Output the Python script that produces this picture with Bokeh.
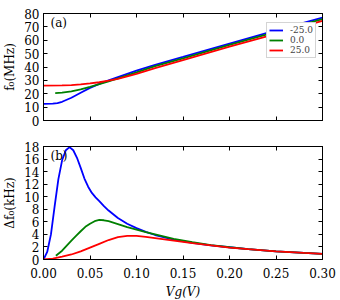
from bokeh.plotting import figure
from bokeh.layouts import column
from bokeh.models import (LinearAxis, FixedTicker, Label, Legend, LegendItem,
                          PrintfTickFormatter, CustomLabelingPolicy)
from bokeh.embed import file_html
from bokeh.resources import INLINE

# ---- data ----
series_names = ["-25.0", "0.0", "25.0"]
series_colors = ["#0000ff", "#008000", "#ff0000"]

# panel (a): f0 in MHz
vg_a_m25 = [0.0, 0.01, 0.015, 0.02, 0.03, 0.04, 0.05, 0.06, 0.07, 0.08, 0.1, 0.12, 0.15, 0.2, 0.25, 0.3]
f0_m25 = [12.4, 12.6, 13.0, 14.0, 17.0, 20.7, 24.4, 27.4, 30.0, 32.5, 37.3, 41.6, 47.5, 57.5, 67.3, 77.0]
vg_a_0 = [0.0126, 0.02, 0.03, 0.04, 0.05, 0.06, 0.07, 0.08, 0.1, 0.12, 0.15, 0.2, 0.25, 0.3]
f0_0 = [20.5, 20.8, 21.8, 23.3, 25.2, 27.2, 29.3, 31.5, 36.0, 40.6, 46.5, 56.5, 66.2, 75.8]
vg_a_25 = [0.0, 0.02, 0.03, 0.04, 0.05, 0.06, 0.07, 0.08, 0.1, 0.12, 0.15, 0.2, 0.25, 0.3]
f0_25 = [26.0, 26.2, 26.5, 27.0, 27.7, 28.6, 29.8, 31.2, 34.8, 39.2, 45.2, 55.2, 64.8, 74.5]

# panel (b): delta f0 in kHz
vg_b_m25 = [0.0, 0.004, 0.008, 0.012, 0.016, 0.02, 0.024, 0.028, 0.032, 0.036, 0.04, 0.044, 0.048,
            0.052, 0.056, 0.06, 0.065, 0.07, 0.075, 0.08, 0.09, 0.1, 0.11, 0.12, 0.14, 0.16,
            0.18, 0.2, 0.22, 0.25, 0.28, 0.3]
df0_m25 = [0.0, 1.2, 4.0, 8.5, 12.8, 15.8, 17.4, 17.9, 17.4, 16.2, 14.6, 12.9, 11.6,
           10.6, 9.9, 9.3, 8.5, 7.8, 7.2, 6.6, 5.7, 5.0, 4.4, 3.9, 3.15, 2.65,
           2.25, 1.95, 1.65, 1.3, 1.05, 0.9]
vg_b_0 = [0.0133, 0.02, 0.025, 0.03, 0.035, 0.04, 0.045, 0.05, 0.055, 0.06, 0.065, 0.07, 0.08, 0.09,
          0.1, 0.11, 0.12, 0.14, 0.16, 0.18, 0.2, 0.22, 0.25, 0.28, 0.3]
df0_0 = [0.6, 1.4, 2.2, 3.0, 3.75, 4.5, 5.2, 5.7, 6.1, 6.3, 6.25, 6.1, 5.65, 5.15,
         4.75, 4.35, 4.0, 3.3, 2.75, 2.3, 1.95, 1.65, 1.3, 1.05, 0.9]
vg_b_25 = [0.0, 0.01, 0.02, 0.03, 0.04, 0.05, 0.06, 0.07, 0.08, 0.09, 0.1, 0.11, 0.12, 0.14,
           0.16, 0.18, 0.2, 0.22, 0.25, 0.28, 0.3]
df0_25 = [0.0, 0.15, 0.45, 0.8, 1.3, 1.9, 2.5, 3.1, 3.55, 3.75, 3.75, 3.6, 3.4, 3.0,
          2.6, 2.25, 1.9, 1.65, 1.3, 1.05, 0.9]

x_ticks = [0.0, 0.05, 0.1, 0.15, 0.2, 0.25, 0.3]
ya_ticks = [0, 10, 20, 30, 40, 50, 60, 70, 80]
yb_ticks = [0, 2, 4, 6, 8, 10, 12, 14, 16, 18]

FONT = "DejaVu Serif"
LW = 1.8
NO_LABELS = "for (const i of indices) { indices.unset(i) }; return indices"


def style_axis(ax, ticker, show_labels):
    ax.ticker = FixedTicker(ticks=ticker)
    ax.major_tick_in = 4
    ax.major_tick_out = 0
    ax.minor_tick_in = 0
    ax.minor_tick_out = 0
    ax.axis_line_color = "black"
    ax.major_tick_line_color = "black"
    ax.major_label_text_font = FONT
    ax.major_label_text_color = "black"
    ax.major_label_text_font_size = "12px"
    ax.axis_label_text_font = FONT
    ax.axis_label_text_font_size = "12px"
    ax.axis_label_text_color = "black"
    ax.axis_label_text_font_style = "normal"
    if not show_labels:
        ax.major_label_policy = CustomLabelingPolicy(code=NO_LABELS)
        ax.major_label_standoff = 0


def make_fig(yr, yt, fh, bottom_border, top_border, show_x_labels):
    p = figure(frame_width=279, frame_height=fh, x_range=(0, 0.3), y_range=yr,
               min_border_left=37, min_border_right=6, min_border_top=top_border,
               min_border_bottom=bottom_border, output_backend="svg", toolbar_location=None,
               x_axis_location=None, y_axis_location=None)
    p.xgrid.visible = False
    p.ygrid.visible = False
    p.outline_line_color = "black"
    p.background_fill_color = "white"
    p.border_fill_color = "white"
    bx = LinearAxis()
    style_axis(bx, x_ticks, show_x_labels)
    p.add_layout(bx, "below")
    ly = LinearAxis()
    style_axis(ly, yt, True)
    ly.major_label_standoff = 4
    ly.axis_label_standoff = 4
    p.add_layout(ly, "left")
    ra = LinearAxis()
    style_axis(ra, yt, False)
    p.add_layout(ra, "right")
    ta = LinearAxis()
    style_axis(ta, x_ticks, False)
    p.add_layout(ta, "above")
    return p, bx, ly


# ---- panel (a) ----
pa, ax_a_x, ax_a_y = make_fig((0, 80), ya_ticks, 107, 8, 7, False)
ax_a_y.axis_label = "f\u2080(MHz)"
ra1 = pa.line(vg_a_m25, f0_m25, color=series_colors[0], line_width=LW)
ra2 = pa.line(vg_a_0, f0_0, color=series_colors[1], line_width=LW)
ra3 = pa.line(vg_a_25, f0_25, color=series_colors[2], line_width=LW)
legend = Legend(items=[LegendItem(label=series_names[0], renderers=[ra1]),
                       LegendItem(label=series_names[1], renderers=[ra2]),
                       LegendItem(label=series_names[2], renderers=[ra3])],
                location=(223, 62), margin=0, padding=2, spacing=0,
                glyph_width=14, glyph_height=10, label_height=10, label_standoff=7,
                label_text_font=FONT, label_text_font_size="9px",
                border_line_color="#aaaaaa", border_line_width=1,
                background_fill_color="white", background_fill_alpha=1.0)
pa.add_layout(legend)
pa.add_layout(Label(x=0.0075, y=78, text="(a)", text_baseline="top",
                    text_font=FONT, text_font_size="12px", text_color="black"))

# ---- panel (b) ----
pb, ax_b_x, ax_b_y = make_fig((0, 18), yb_ticks, 113, 40, 8, True)
ax_b_x.formatter = PrintfTickFormatter(format="%.2f")
ax_b_x.major_label_standoff = 8
ax_b_x.axis_label = "Vg(V)"
ax_b_x.axis_label_text_font_style = "italic"
ax_b_x.axis_label_standoff = 4
ax_b_y.axis_label = "\u0394f\u2080(kHz)"
pb.line(vg_b_m25, df0_m25, color=series_colors[0], line_width=LW)
pb.line(vg_b_0, df0_0, color=series_colors[1], line_width=LW)
pb.line(vg_b_25, df0_25, color=series_colors[2], line_width=LW)
pb.add_layout(Label(x=0.0075, y=17.6, text="(b)", text_baseline="top",
                    text_font=FONT, text_font_size="12px", text_color="black"))

layout = column(pa, pb, spacing=0)
open("out.html", "w").write(file_html(layout, INLINE))
